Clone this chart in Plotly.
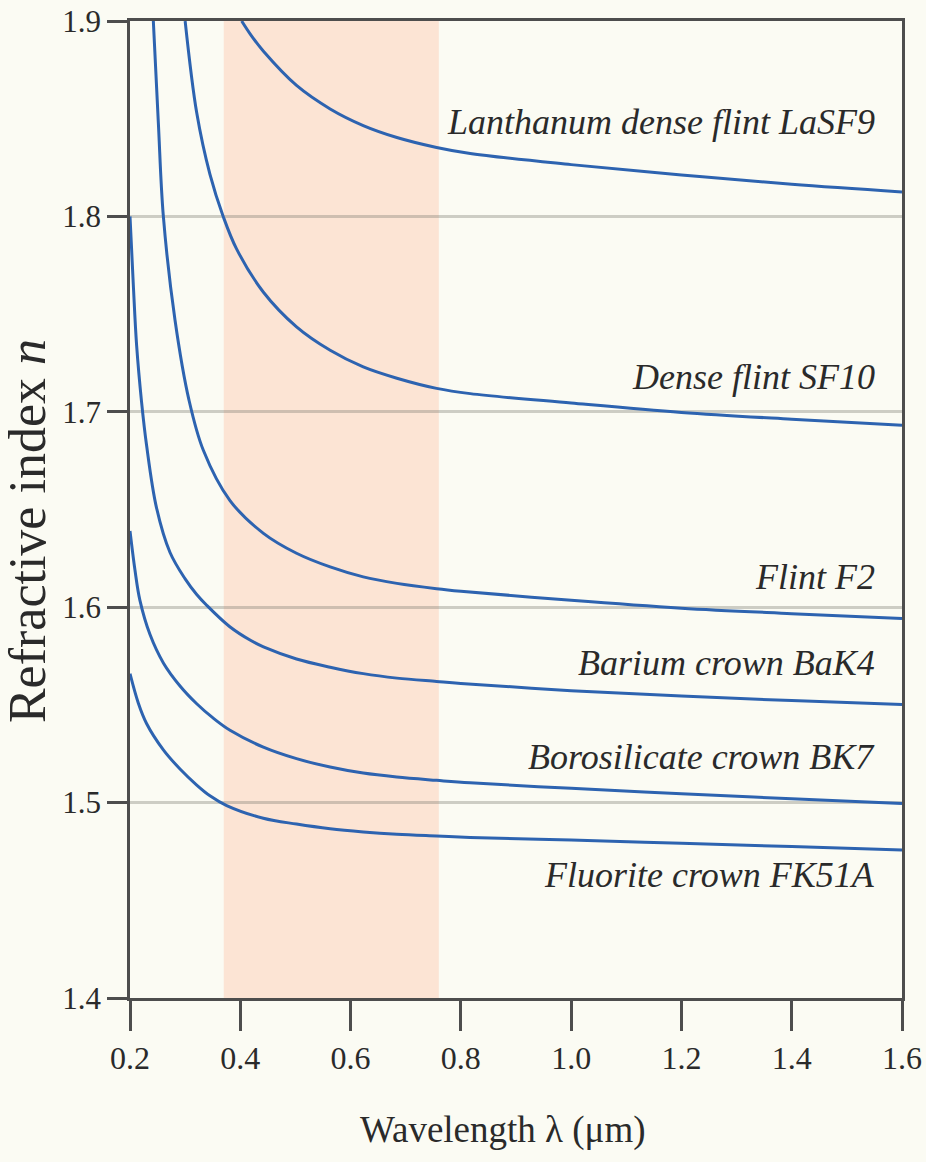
import plotly.graph_objects as go

# ---- data ----
LAM_LASF9 = [0.4025, 0.420, 0.442, 0.502, 0.563, 0.623, 0.684, 0.756, 0.817, 1.0, 1.2, 1.4, 1.6]
N_LASF9 = [1.900, 1.8925, 1.8845, 1.8670, 1.8550, 1.8465, 1.8404, 1.8353, 1.8322, 1.8265, 1.8212, 1.8164, 1.8125]

LAM_SF10 = [0.300, 0.321, 0.345, 0.369, 0.393, 0.442, 0.502, 0.563, 0.623, 0.684, 0.756, 0.817, 1.0, 1.2, 1.4, 1.6]
N_SF10 = [1.900, 1.853, 1.8215, 1.800, 1.7835, 1.7612, 1.7435, 1.7315, 1.723, 1.7172, 1.712, 1.7093, 1.7045, 1.6997, 1.6962, 1.6931]

LAM_F2 = [0.2423, 0.2514, 0.2605, 0.2816, 0.307, 0.333, 0.381, 0.442, 0.502, 0.563, 0.623, 0.684, 0.756, 0.80, 1.0, 1.2, 1.4, 1.6]
N_F2 = [1.900, 1.848, 1.800, 1.747, 1.706, 1.6803, 1.6547, 1.6378, 1.6276, 1.6206, 1.6155, 1.6122, 1.6095, 1.6082, 1.6035, 1.5995, 1.5967, 1.5942]

LAM_BAK4 = [0.200, 0.206, 0.212, 0.221, 0.230, 0.248, 0.2726, 0.300, 0.321, 0.339, 0.381, 0.420, 0.442, 0.502, 0.563, 0.623, 0.684, 0.756, 0.80, 1.0, 1.2, 1.4, 1.6]
N_BAK4 = [1.800, 1.765, 1.734, 1.705, 1.683, 1.651, 1.628, 1.6145, 1.6065, 1.601, 1.590, 1.5828, 1.5797, 1.5735, 1.5693, 1.566, 1.5637, 1.562, 1.561, 1.5573, 1.5545, 1.5522, 1.5502]

LAM_BK7 = [0.200, 0.209, 0.218, 0.2363, 0.2605, 0.2907, 0.321, 0.351, 0.3814, 0.4418, 0.502, 0.5628, 0.623, 0.6837, 0.756, 0.8167, 1.0, 1.2, 1.4, 1.6]
N_BK7 = [1.639, 1.619, 1.6035, 1.586, 1.5715, 1.5597, 1.5506, 1.5432, 1.537, 1.5284, 1.5225, 1.5182, 1.5151, 1.5131, 1.5114, 1.5101, 1.5073, 1.5045, 1.5020, 1.4995]

LAM_FK51A = [0.200, 0.215, 0.230, 0.2605, 0.2907, 0.321, 0.345, 0.3753, 0.4418, 0.502, 0.563, 0.623, 0.684, 0.756, 0.8167, 1.0, 1.2, 1.4, 1.6]
N_FK51A = [1.566, 1.551, 1.5405, 1.527, 1.5172, 1.509, 1.5035, 1.4985, 1.4920, 1.4890, 1.4866, 1.4850, 1.4838, 1.4829, 1.4822, 1.4808, 1.4792, 1.4775, 1.4758]

SERIES = [
    ("Lanthanum dense flint LaSF9", LAM_LASF9, N_LASF9),
    ("Dense flint SF10", LAM_SF10, N_SF10),
    ("Flint F2", LAM_F2, N_F2),
    ("Barium crown BaK4", LAM_BAK4, N_BAK4),
    ("Borosilicate crown BK7", LAM_BK7, N_BK7),
    ("Fluorite crown FK51A", LAM_FK51A, N_FK51A),
]

LABEL_X = 1.555
LABEL_Y = [1.8485, 1.7177, 1.6153, 1.5713, 1.5231, 1.4627]

VISIBLE_BAND = [0.37, 0.76]
X_TICKS = [0.2, 0.4, 0.6, 0.8, 1.0, 1.2, 1.4, 1.6]
X_TICK_TEXT = ["0.2", "0.4", "0.6", "0.8", "1.0", "1.2", "1.4", "1.6"]
Y_TICKS = [1.4, 1.5, 1.6, 1.7, 1.8, 1.9]
Y_TICK_TEXT = ["1.4", "1.5", "1.6", "1.7", "1.8", "1.9"]

BG = "#fbfbf3"
LINE_BLUE = "#2d63b0"
AXIS = "#4d4d4d"
TEXT = "#2a2a2a"
SERIF = "Liberation Serif"

fig = go.Figure()
for name, lam, n in SERIES:
    fig.add_trace(go.Scatter(
        x=lam, y=n, mode="lines", name=name,
        line=dict(color=LINE_BLUE, width=3, shape="spline", smoothing=1.0),
        hoverinfo="skip",
    ))

fig.add_shape(type="rect", xref="x", yref="y",
              x0=VISIBLE_BAND[0], x1=VISIBLE_BAND[1], y0=1.4, y1=1.9,
              fillcolor="rgb(252,228,212)", line=dict(width=0), layer="below")

for (name, _, _), ly in zip(SERIES, LABEL_Y):
    fig.add_annotation(x=LABEL_X, y=ly, xref="x", yref="y", text=f"<i>{name}</i>",
                       showarrow=False, xanchor="right", yanchor="middle",
                       font=dict(family=SERIF, size=36, color=TEXT))

fig.add_annotation(x=0.483, y=-0.135, xref="paper", yref="paper",
                   text="Wavelength λ (μm)", showarrow=False,
                   xanchor="center", yanchor="middle",
                   font=dict(family=SERIF, size=37, color=TEXT))
fig.add_annotation(x=-0.132, y=0.478, xref="paper", yref="paper",
                   text="Refractive index <i>n</i>", showarrow=False, textangle=-90,
                   xanchor="center", yanchor="middle",
                   font=dict(family=SERIF, size=52, color=TEXT))

fig.update_layout(
    width=926, height=1162,
    margin=dict(l=130, r=24, t=21, b=164, autoexpand=False),
    paper_bgcolor=BG, plot_bgcolor=BG,
    showlegend=False, hovermode=False,
    font=dict(family=SERIF, color=TEXT),
)
fig.update_xaxes(
    range=[0.2, 1.6], tickmode="array", tickvals=X_TICKS, ticktext=X_TICK_TEXT,
    showgrid=False, zeroline=False, automargin=False,
    showline=True, linecolor=AXIS, linewidth=2.5, mirror=True,
    ticks="outside", ticklen=30, tickwidth=2.5, tickcolor=AXIS,
    tickfont=dict(family=SERIF, size=32, color=TEXT),
)
fig.update_yaxes(
    range=[1.4, 1.9], tickmode="array", tickvals=Y_TICKS, ticktext=Y_TICK_TEXT,
    showgrid=True, gridcolor="rgba(120,120,110,0.35)", gridwidth=3, zeroline=False,
    automargin=False,
    showline=True, linecolor=AXIS, linewidth=2.5, mirror=True,
    ticks="outside", ticklen=20, tickwidth=2.5, tickcolor=AXIS,
    tickfont=dict(family=SERIF, size=31, color=TEXT),
)

fig.write_html("out.html")
